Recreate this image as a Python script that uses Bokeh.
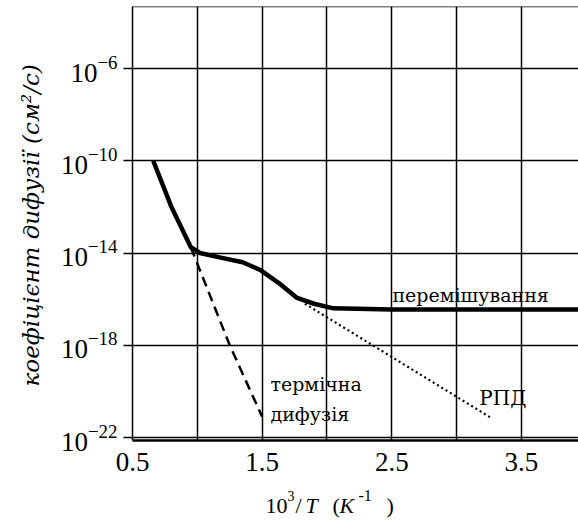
import math
from bokeh.plotting import figure
from bokeh.layouts import column, row
from bokeh.models import Range1d, FixedTicker, Span
from bokeh.core.properties import value
from bokeh.embed import file_html
from bokeh.resources import INLINE

# ---- data (x = 10^3/T, K^-1 ; values are log10 of D, cm^2/s) ----
mix_x = [0.66, 0.80, 0.95, 1.02, 1.18, 1.35, 1.49, 1.64, 1.77, 1.90, 2.05, 2.50, 3.94]
mix_logD = [-10.0, -12.0, -13.75, -14.0, -14.2, -14.4, -14.75, -15.35, -15.95, -16.2, -16.4, -16.45, -16.45]

thermal_x = [0.95, 1.25, 1.50]
thermal_logD = [-13.75, -18.0, -21.1]

rpd_x = [1.83, 3.26]
rpd_logD = [-16.2, -21.13]

x_ticks = [0.5, 1.5, 2.5, 3.5]
x_grid = [0.5, 1.0, 1.5, 2.0, 2.5, 3.0, 3.5]
y_ticks = [1e-22, 1e-18, 1e-14, 1e-10, 1e-6]

FONT = "Liberation Serif"      # Latin text
CYR = "DejaVu Serif"           # Cyrillic text

LEFT_W = 45

p = figure(width=578 - LEFT_W, height=482, output_backend="svg", toolbar_location=None,
           x_range=Range1d(0.5, 3.94), y_range=Range1d(10 ** -22.13, 10 ** -3.31),
           y_axis_type="log", min_border_left=132 - LEFT_W, min_border_right=0,
           min_border_top=6, min_border_bottom=42)
p.outline_line_color = None
p.background_fill_color = "white"
p.border_fill_color = "white"

p.xgrid.ticker = FixedTicker(ticks=x_grid)
p.ygrid.ticker = FixedTicker(ticks=y_ticks)
for g in (p.xgrid, p.ygrid):
    g.grid_line_color = "black"
    g.grid_line_width = 1.5
    g.grid_line_alpha = 1.0

p.xaxis.ticker = FixedTicker(ticks=x_ticks)
p.xaxis.major_tick_out = 0
p.xaxis.major_tick_in = 0
p.xaxis.minor_tick_line_color = None
p.xaxis.axis_line_width = 2.5
p.xaxis.axis_line_color = "black"
p.xaxis.major_label_text_font = FONT
p.xaxis.major_label_text_font_size = "27px"
p.xaxis.major_label_text_color = "black"
p.xaxis.major_label_standoff = 12

p.yaxis.ticker = FixedTicker(ticks=y_ticks)
p.yaxis.major_tick_out = 9
p.yaxis.major_tick_in = 0
p.yaxis.major_tick_line_width = 1.5
p.yaxis.minor_tick_line_color = None
p.yaxis.axis_line_width = 1.5
p.yaxis.axis_line_color = "black"
p.yaxis.major_label_text_font = FONT
p.yaxis.major_label_text_font_size = "27px"
p.yaxis.major_label_text_color = "black"
p.yaxis.major_label_standoff = 6

p.add_layout(Span(location=10 ** -3.31, dimension="width", line_color="black", line_width=1.5))

p.line(mix_x, [10 ** v for v in mix_logD], line_color="black", line_width=4.5, line_join="round")
p.line(thermal_x, [10 ** v for v in thermal_logD], line_color="black", line_width=2.5,
       line_dash="10 6")
p.line(rpd_x, [10 ** v for v in rpd_logD], line_color="black", line_width=2.2,
       line_dash="2 3")

def txt(fig, x, y, t, size="24px", style="normal", font=FONT, align="left", angle=0.0):
    fig.text(x=[x], y=[y], text=[t], text_font=value(font), text_font_size=value(size),
             text_font_style=value(style), text_color="black", angle=angle,
             text_align=align, text_baseline="alphabetic")

txt(p, 2.505, 10 ** -15.84, "перемішування", "19px", font=CYR)
txt(p, 1.564, 10 ** -19.66, "термічна", "19px", font=CYR)
txt(p, 1.564, 10 ** -20.96, "дифузія", "19px", font=CYR)
txt(p, 3.175, 10 ** -20.27, "РПД", "20px", font=CYR)

def strip(w, h):
    f = figure(width=w, height=h, output_backend="svg", toolbar_location=None,
               x_range=Range1d(0, w), y_range=Range1d(0, h),
               x_axis_location=None, y_axis_location=None,
               min_border_left=0, min_border_right=0, min_border_top=0, min_border_bottom=0)
    f.outline_line_color = None
    f.grid.visible = False
    f.border_fill_color = "white"
    f.background_fill_color = "white"
    return f

# y-axis title strip
ly = strip(LEFT_W, 482)
txt(ly, 30, 482 - 243, "коефіцієнт дифузії (см²/с)", "23px", "italic", font=CYR,
    align="center", angle=math.pi / 2)

# x-axis title strip (mixed upright / italic text)
q = strip(578, 44)
txt(q, 265, 21, "10", "22px")
txt(q, 287, 31, "3", "14px")
txt(q, 295, 21, "/", "22px")
txt(q, 305, 21, "T", "22px", "italic")
txt(q, 332, 21, "(", "22px")
txt(q, 339, 21, "K", "22px", "italic")
txt(q, 358, 31, "-1", "16px")
txt(q, 386, 21, ")", "22px")

layout = column(row(ly, p, spacing=0), q, spacing=0)
open("out.html", "w").write(file_html(layout, INLINE))
